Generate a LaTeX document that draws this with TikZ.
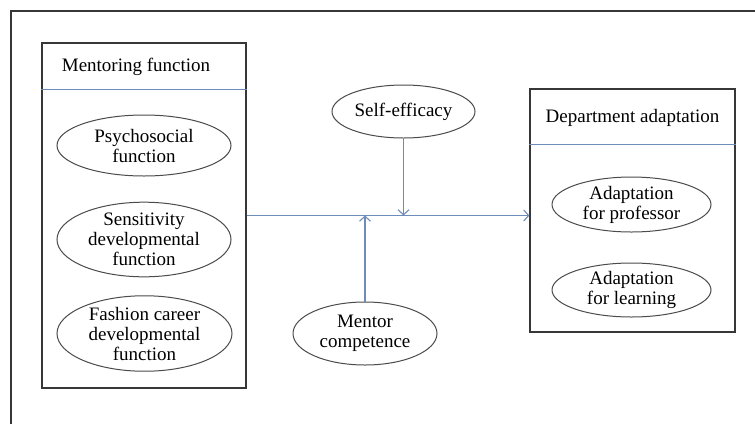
\documentclass[tikz,border=0pt]{standalone}
\usepackage{fontspec}
\setmainfont{Liberation Serif}
\usetikzlibrary{shapes.geometric,arrows.meta}
\definecolor{lineblue}{RGB}{110,140,185}
\definecolor{boxgray}{RGB}{55,55,55}
\definecolor{ellgray}{RGB}{75,75,75}
\tikzset{
  outerframe/.style={draw=boxgray,line width=1.4pt},
  groupbox/.style={draw=boxgray,line width=1.2pt,rectangle,inner sep=0pt},
  oval/.style={draw=ellgray,line width=1pt,ellipse,inner sep=0pt,align=center,
    font=\fontsize{19}{20}\selectfont},
  title/.style={font=\fontsize{19}{20}\selectfont,inner sep=0pt},
  divider/.style={draw=lineblue,line width=0.9pt},
  conn/.style={draw=lineblue,line width=1.1pt,-{Straight Barb[length=5pt,width=11pt]}},
}
\begin{document}
\begin{tikzpicture}[x=1pt,y=-1pt]
\useasboundingbox (0,0) rectangle (755,424);
\fill[white] (0,0) rectangle (755,424);
% outer frame (only top and left visible)
\coordinate (fa) at (11,424);
\coordinate (fb) at (11,11);
\coordinate (fc) at (755,11);
\draw[outerframe] (fa) -- (fb) -- (fc);

% left group
\node[groupbox,minimum width=204pt,minimum height=345pt] (lbox) at (144,215.5) {};
\node[title] (ltitle) at (136,67) {Mentoring function};
\draw[divider] (lbox.west |- 0,89) -- (lbox.east |- 0,89);
\node[oval,minimum width=174pt,minimum height=61pt] (psy) at (144,145.5) {Psychosocial\\function};
\node[oval,minimum width=174pt,minimum height=63pt] (sens) at (144,239.5) {Sensitivity\\developmental\\function};
\node[oval,minimum width=175pt,minimum height=63pt] (fash) at (144.5,333.5) {Fashion career\\developmental\\function};

% right group
\node[groupbox,minimum width=205pt,minimum height=243pt] (rbox) at (632.5,210.5) {};
\node[title] (rtitle) at (632.5,118) {Department adaptation};
\draw[divider] (rbox.west |- 0,144) -- (rbox.east |- 0,144);
\node[oval,minimum width=159pt,minimum height=55pt] (prof) at (631.5,204.5) {Adaptation\\for professor};
\node[oval,minimum width=159pt,minimum height=54pt] (learn) at (631.5,290) {Adaptation\\for learning};

% moderators
\node[oval,minimum width=143pt,minimum height=53pt] (self) at (403.5,111.5) {Self-efficacy};
\node[oval,minimum width=144pt,minimum height=63pt] (ment) at (365,333.5) {Mentor\\competence};

% connectors
\draw[conn] (lbox.east) -- (lbox.east -| rbox.west);
\draw[conn] (self.south) -- (self.south |- lbox.east);
\draw[conn] (ment.north) -- (ment.north |- lbox.east);
\end{tikzpicture}
\end{document}
